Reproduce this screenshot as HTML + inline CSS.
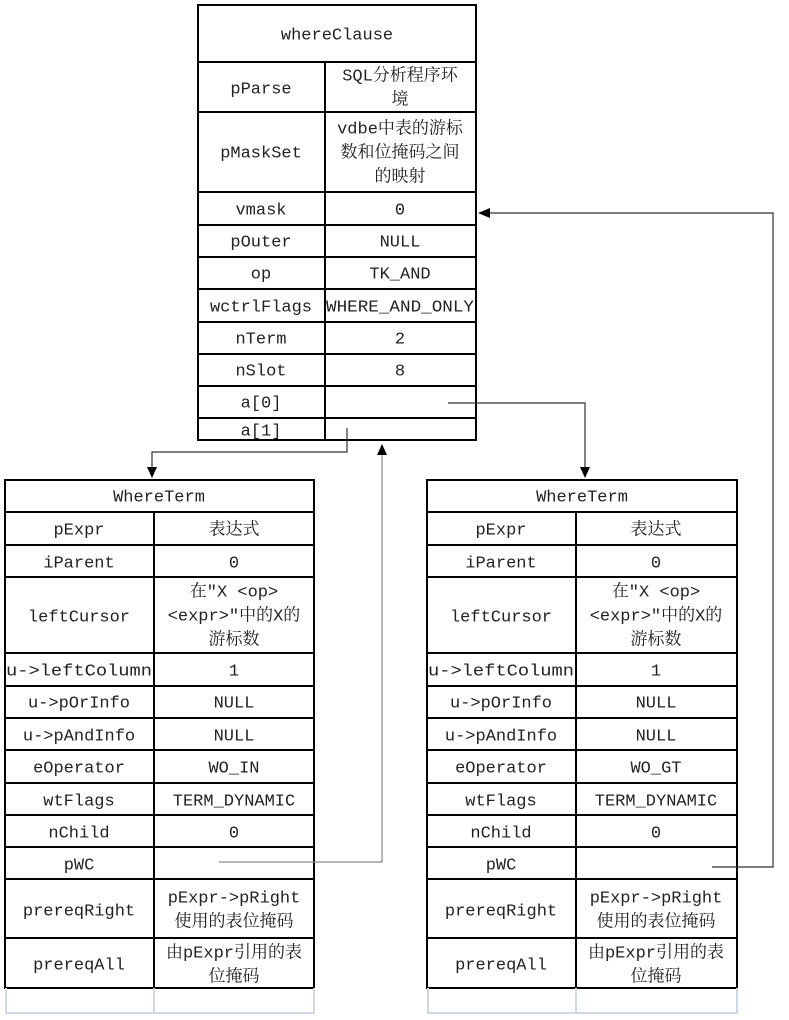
<!DOCTYPE html>
<html><head><meta charset="utf-8"><style>
html,body{margin:0;padding:0;background:#fff;}
svg{display:block}
text{font-family:"Liberation Mono","Noto Serif CJK SC","Noto Sans CJK SC",monospace;font-size:17px;fill:#222;text-anchor:middle;dominant-baseline:central;}
</style></head><body>
<svg width="789" height="1020" viewBox="0 0 789 1020" xmlns="http://www.w3.org/2000/svg">
<g stroke="#000" stroke-width="2" fill="none">
<rect x="198" y="5" width="278" height="435"/>
<path d="M198 62H476M198 112H476M198 192H476M198 225H476M198 257H476M198 289H476M198 322H476M198 354H476M198 386H476M198 418H476M325 62V440"/>
<rect x="5" y="480" width="309" height="508"/>
<path d="M5 512H314M5 545H314M5 577H314M5 653H314M5 686H314M5 718H314M5 750H314M5 783H314M5 815H314M5 847H314M5 879H314M5 938H314M154 512V988"/>
<rect x="427" y="480" width="310" height="508"/>
<path d="M427 512H737M427 545H737M427 577H737M427 653H737M427 686H737M427 718H737M427 750H737M427 783H737M427 815H737M427 847H737M427 879H737M427 938H737M576 512V988"/>
</g>
<g stroke="#d0d8e6" stroke-width="2" fill="none">
<path d="M6 988V1013H314V988M154 988V1013M428 988V1013H737V988M576 988V1013"/>
</g>
<g stroke="#333" stroke-width="1.2" fill="none">
<path d="M347 428V452H152V470"/>
<path d="M448 403H585V470"/>
<path d="M219 862H382V452" stroke="#888"/>
<path d="M712 867H773V213H488"/>
</g>
<g fill="#000">
<path d="M147 467H157L152 478Z"/>
<path d="M580 467H590L585 478Z"/>
<path d="M377 455H387L382 444Z"/>
<path d="M490 208V218L478 213Z"/>
</g>
<g transform="translate(0,2)">
<text x="337" y="34">whereClause</text>
<text x="261" y="88">pParse</text>
<text x="400" y="75">SQL分析程序环</text><text x="400" y="99">境</text>
<text x="261" y="152">pMaskSet</text>
<text x="400" y="128">vdbe中表的游标</text><text x="400" y="152">数和位掩码之间</text><text x="400" y="176">的映射</text>
<text x="261" y="209">vmask</text><text x="400" y="209">0</text>
<text x="261" y="241">pOuter</text><text x="400" y="241">NULL</text>
<text x="261" y="273">op</text><text x="400" y="273">TK_AND</text>
<text x="261" y="306">wctrlFlags</text><text x="400" y="306" textLength="148" lengthAdjust="spacingAndGlyphs">WHERE_AND_ONLY</text>
<text x="261" y="338">nTerm</text><text x="400" y="338">2</text>
<text x="261" y="370">nSlot</text><text x="400" y="370">8</text>
<text x="261" y="402">a[0]</text>
<text x="261" y="430">a[1]</text>

<text x="159" y="496">WhereTerm</text>
<text x="79" y="529">pExpr</text><text x="234" y="529">表达式</text>
<text x="79" y="562">iParent</text><text x="234" y="562">0</text>
<text x="79" y="616">leftCursor</text>
<text x="234" y="591">在"X &lt;op&gt;</text><text x="234" y="615">&lt;expr&gt;"中的X的</text><text x="234" y="639">游标数</text>
<text x="79" y="670" textLength="146" lengthAdjust="spacingAndGlyphs">u-&gt;leftColumn</text><text x="234" y="670">1</text>
<text x="79" y="702">u-&gt;pOrInfo</text><text x="234" y="702">NULL</text>
<text x="79" y="735">u-&gt;pAndInfo</text><text x="234" y="735">NULL</text>
<text x="79" y="767">eOperator</text><text x="234" y="767">WO_IN</text>
<text x="79" y="800">wtFlags</text><text x="234" y="800">TERM_DYNAMIC</text>
<text x="79" y="832">nChild</text><text x="234" y="832">0</text>
<text x="79" y="864">pWC</text>
<text x="79" y="910">prereqRight</text>
<text x="234" y="897">pExpr-&gt;pRight</text><text x="234" y="921">使用的表位掩码</text>
<text x="79" y="964">prereqAll</text>
<text x="234" y="952">由pExpr引用的表</text><text x="234" y="976">位掩码</text>

<text x="582" y="496">WhereTerm</text>
<text x="501" y="529">pExpr</text><text x="656" y="529">表达式</text>
<text x="501" y="562">iParent</text><text x="656" y="562">0</text>
<text x="501" y="616">leftCursor</text>
<text x="656" y="591">在"X &lt;op&gt;</text><text x="656" y="615">&lt;expr&gt;"中的X的</text><text x="656" y="639">游标数</text>
<text x="501" y="670" textLength="146" lengthAdjust="spacingAndGlyphs">u-&gt;leftColumn</text><text x="656" y="670">1</text>
<text x="501" y="702">u-&gt;pOrInfo</text><text x="656" y="702">NULL</text>
<text x="501" y="735">u-&gt;pAndInfo</text><text x="656" y="735">NULL</text>
<text x="501" y="767">eOperator</text><text x="656" y="767">WO_GT</text>
<text x="501" y="800">wtFlags</text><text x="656" y="800">TERM_DYNAMIC</text>
<text x="501" y="832">nChild</text><text x="656" y="832">0</text>
<text x="501" y="864">pWC</text>
<text x="501" y="910">prereqRight</text>
<text x="656" y="897">pExpr-&gt;pRight</text><text x="656" y="921">使用的表位掩码</text>
<text x="501" y="964">prereqAll</text>
<text x="656" y="952">由pExpr引用的表</text><text x="656" y="976">位掩码</text>
</g>
</svg>
</body></html>
